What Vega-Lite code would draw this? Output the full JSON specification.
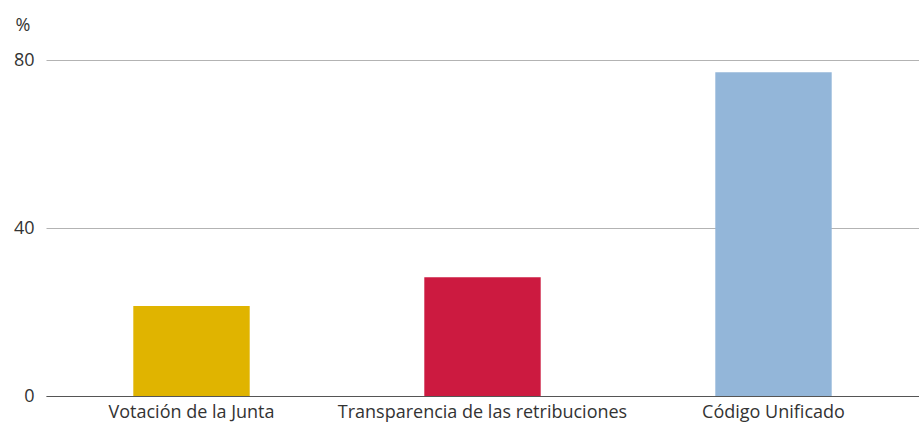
{
  "$schema": "https://vega.github.io/schema/vega-lite/v6.json",
  "width": 873,
  "height": 336,
  "autosize": {"type": "none"},
  "padding": {"left": 46, "top": 60, "right": 0, "bottom": 32},
  "background": "white",
  "data": {"values": [
    {"cat": "Votación de la Junta", "value": 21.4},
    {"cat": "Transparencia de las retribuciones", "value": 28.3},
    {"cat": "Código Unificado", "value": 77.1}
  ]},
  "mark": {"type": "bar"},
  "encoding": {
    "x": {
      "field": "cat", "type": "nominal", "sort": null,
      "scale": {"paddingInner": 0.6, "paddingOuter": 0.3},
      "axis": {
        "title": null, "labelAngle": 0, "ticks": false, "labelPadding": 7, "labelLimit": 0,
        "domainColor": "#555555", "domainWidth": 1,
        "labelFont": "Open Sans", "labelFontSize": 18, "labelColor": "#333333"
      }
    },
    "y": {
      "field": "value", "type": "quantitative",
      "scale": {"domain": [0, 80]},
      "axis": {
        "values": [0, 40, 80], "ticks": false, "domain": false, "labelPadding": 12,
        "gridColor": "#b3b3b3", "gridWidth": 1,
        "labelFont": "Open Sans", "labelFontSize": 18, "labelColor": "#333333",
        "title": "%", "titleAngle": 0, "titleAlign": "left", "titleBaseline": "alphabetic",
        "titleX": -31, "titleY": -30, "titleFont": "Open Sans", "titleFontSize": 18,
        "titleFontWeight": "normal", "titleColor": "#333333"
      }
    },
    "color": {
      "field": "cat", "type": "nominal", "legend": null,
      "scale": {
        "domain": ["Votación de la Junta", "Transparencia de las retribuciones", "Código Unificado"],
        "range": ["#e0b400", "#cc1a40", "#93b6d9"]
      }
    }
  },
  "config": {"view": {"stroke": null}}
}
